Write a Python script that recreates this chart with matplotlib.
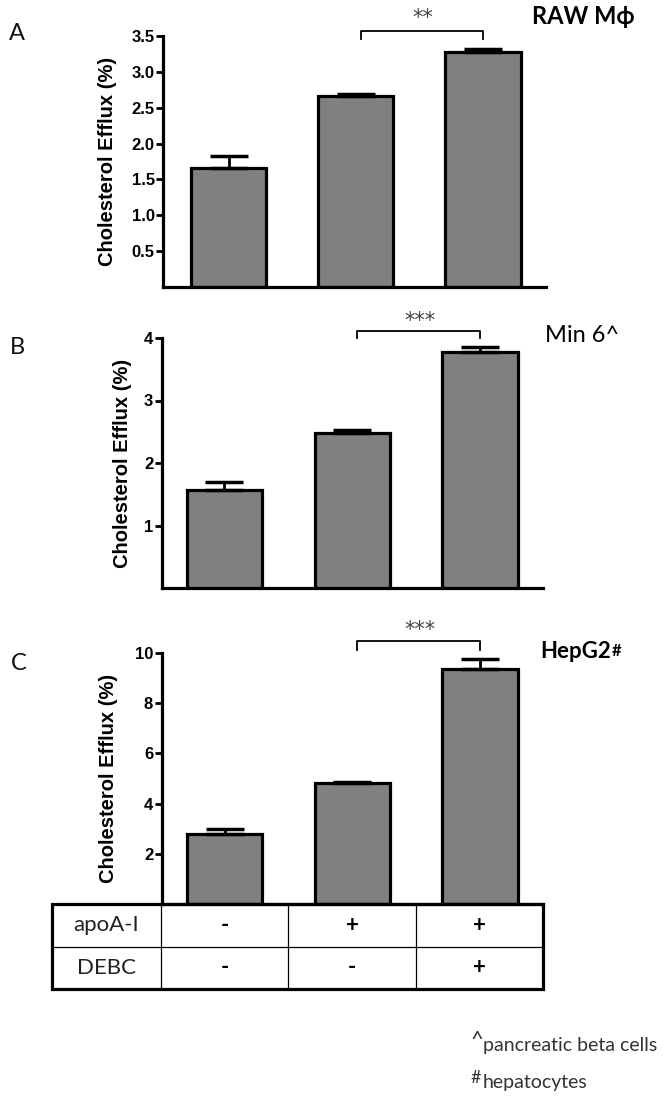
import matplotlib
matplotlib.use('Agg')
import matplotlib.pyplot as plt
from matplotlib.patches import Rectangle

# ---- data ----
cell_lines = ['RAW M\u03d5', 'Min 6^', 'HepG2']
panel_letters = ['A', 'B', 'C']
raw_mean = [1.66, 2.66, 3.27]
raw_sem = [0.17, 0.03, 0.05]
min6_mean = [1.57, 2.48, 3.78]
min6_sem = [0.12, 0.05, 0.07]
hepg2_mean = [2.80, 4.81, 9.38]
hepg2_sem = [0.20, 0.06, 0.38]
sig_labels = ['**', '***', '***']
apoa1 = ['-', '+', '+']
debc = ['-', '-', '+']
row_names = ['apoA-I', 'DEBC']
footnotes = [('^', 'pancreatic beta cells'), ('#', 'hepatocytes')]

W, H = 664, 1100
fig = plt.figure(figsize=(W / 100, H / 100), dpi=100)

calibri = ['Lato', 'DejaVu Sans']
arial = ['Liberation Sans', 'DejaVu Sans']


def rect(x0, x1, ytop, ybot):
    return [x0 / W, 1 - ybot / H, (x1 - x0) / W, (ybot - ytop) / H]


def fy(py):
    return 1 - py / H


panels = [
    dict(mean=raw_mean, sem=raw_sem, rect=rect(163, 546, 36, 287), ymax=3.5,
         ticks=[0.5, 1.0, 1.5, 2.0, 2.5, 3.0, 3.5], fmt='{:.1f}', xlim=(-0.515, 2.495),
         br=(3.57, 3.46), star_y=3.67, lab_x=-0.12),
    dict(mean=min6_mean, sem=min6_sem, rect=rect(161.5, 543, 338, 588), ymax=4,
         ticks=[1, 2, 3, 4], fmt='{:d}', xlim=(-0.493, 2.493),
         br=(4.12, 4.0), star_y=4.18, lab_x=-0.077),
    dict(mean=hepg2_mean, sem=hepg2_sem, rect=rect(161.5, 543, 653, 904), ymax=10,
         ticks=[2, 4, 6, 8, 10], fmt='{:d}', xlim=(-0.494, 2.494),
         br=(10.46, 10.13), star_y=10.68, lab_x=-0.115),
]

x = [0, 1, 2]
axes = []
for i, p in enumerate(panels):
    ax = fig.add_axes(p['rect'])
    axes.append(ax)
    ax.bar(x, p['mean'], width=0.59, color='#808080', edgecolor='black',
           linewidth=2.3, zorder=2)
    ax.errorbar(x, p['mean'], yerr=[[0, 0, 0], p['sem']], fmt='none',
                ecolor='black', elinewidth=2, capsize=14, capthick=2.5, zorder=3)
    ax.set_xlim(*p['xlim'])
    ax.set_ylim(0, p['ymax'])
    ax.set_yticks(p['ticks'])
    ax.set_yticklabels([p['fmt'].format(t) for t in p['ticks']],
                       fontfamily=arial, fontweight='bold', fontsize=12)
    ax.set_xticks([])
    for s in ['top', 'right']:
        ax.spines[s].set_visible(False)
    for s in ['left', 'bottom']:
        ax.spines[s].set_linewidth(2.3)
    ax.tick_params(axis='y', length=5, width=2, pad=1)
    ax.set_ylabel('Cholesterol Efflux (%)', fontfamily=arial, fontweight='bold',
                  fontsize=14.5)
    ax.yaxis.set_label_coords(p['lab_x'], 0.5)

    # significance bracket
    top, foot = p['br']
    ax.plot([1.04, 1.04, 2.0, 2.0], [foot, top, top, foot], color='black',
            lw=1.3, clip_on=False)
    ax.text(1.53, p['star_y'], sig_labels[i], ha='center', va='baseline',
            fontsize=15, color='#444444', fontfamily='DejaVu Sans')

# panel letters
for letter, (px, py) in zip(panel_letters, [(17, 33), (17, 347), (19, 664)]):
    fig.text(px / W, fy(py), letter, ha='center', va='center', fontsize=17,
             fontfamily=calibri, color='#111111')

# cell line labels
fig.text(532 / W, fy(17), cell_lines[0], ha='left', va='center', fontsize=17,
         fontweight='bold', fontfamily=calibri)
fig.text(545 / W, fy(335), cell_lines[1], ha='left', va='center', fontsize=17,
         fontfamily=calibri)
t = fig.text(540 / W, fy(652), cell_lines[2], ha='left', va='center', fontsize=16,
             fontweight='bold', fontfamily=calibri)
axes[2].annotate('#', xy=(1, 1), xycoords=t, xytext=(0.5, -1),
                 textcoords='offset points', ha='left', va='top',
                 fontsize=12, fontweight='bold', fontfamily=calibri,
                 annotation_clip=False)

# treatment table below panel C
x_left = -0.5 - 109 * 3 / 382
tab = fig.add_axes(rect(52, 543, 904, 989))
tab.set_xlim(x_left, 2.5)
tab.set_ylim(0, 2)
tab.axis('off')
tab.add_patch(Rectangle((x_left, 0), 2.5 - x_left, 2, fill=False, lw=2.3,
                        edgecolor='black', clip_on=False))
tab.plot([x_left, 2.5], [1, 1], color='black', lw=0.9)
for xv in [-0.5, 0.5, 1.5]:
    tab.plot([xv, xv], [0, 2], color='black', lw=0.9)
for r, (name, vals) in enumerate(zip(row_names, [apoa1, debc])):
    yc = 1.5 - r
    tab.text((x_left - 0.5) / 2, yc, name, ha='center', va='center', fontsize=16,
             fontfamily=calibri, color='#222222')
    for j, v in enumerate(vals):
        tab.text(j, yc, v, ha='center', va='center', fontsize=16,
                 fontweight='bold', fontfamily=calibri)

# footnotes
fn_pos = [((471, 1046, 16), (483, 1051)), ((471, 1083, 13), (483, 1088))]
for (mark, txt), ((mx, my, ms), (tx, ty)) in zip(footnotes, fn_pos):
    fig.text(mx / W, fy(my), mark, ha='left', va='baseline', fontsize=ms,
             fontfamily=calibri, color='#333333')
    fig.text(tx / W, fy(ty), txt, ha='left', va='baseline', fontsize=14,
             fontfamily=calibri, color='#333333')

fig.savefig('out.png', dpi=100)
